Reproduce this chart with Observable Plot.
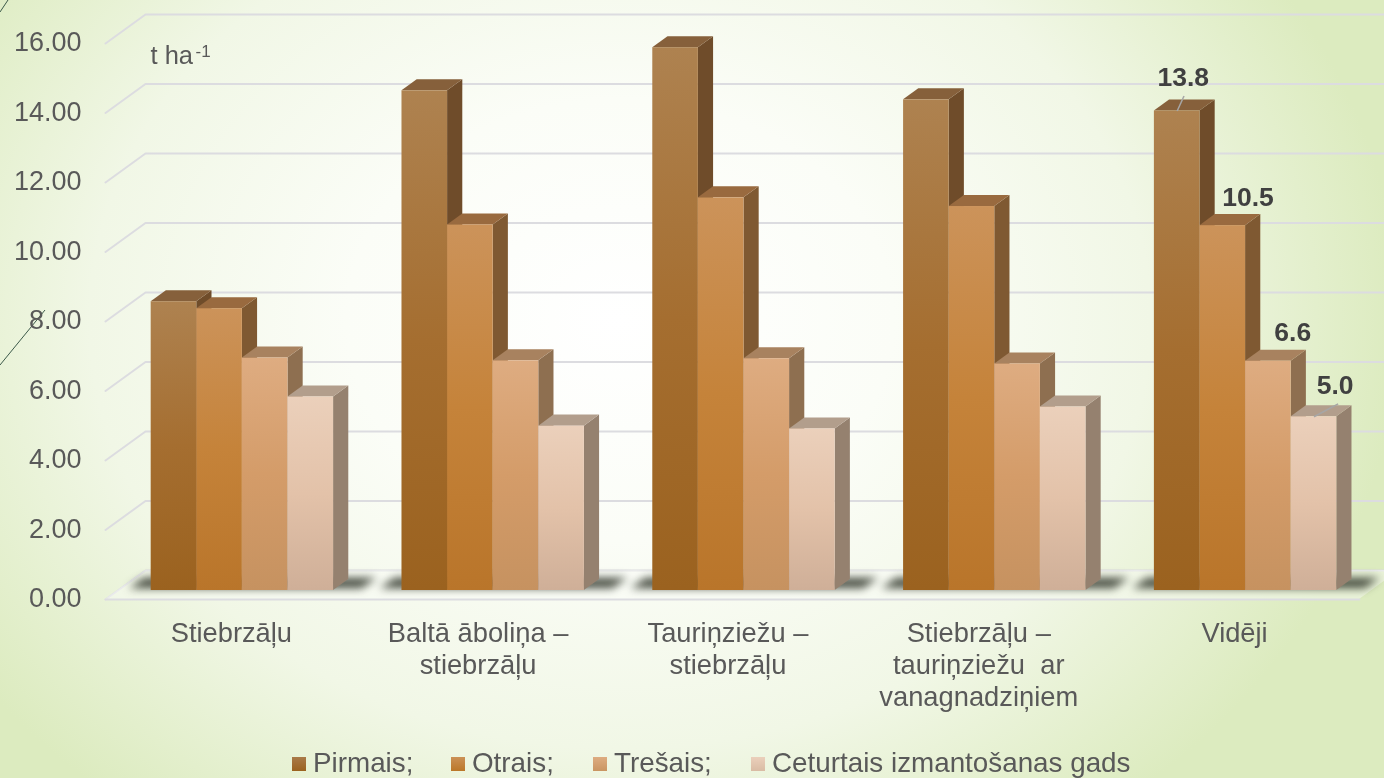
<!doctype html>
<html><head><meta charset="utf-8">
<script src="https://cdn.jsdelivr.net/npm/d3@7"></script>
<script src="https://cdn.jsdelivr.net/npm/@observablehq/plot@0.6"></script>
<style>
html,body{margin:0;padding:0;width:1384px;height:778px;overflow:hidden}
body{position:relative;font-family:"Liberation Sans",Arial,sans-serif;color:#595959;
background:
radial-gradient(ellipse 780px 630px at 620px 320px,#ffffff 0%,#fbfdf7 35%,#f1f7e6 68%,#dcebbf 100%);}
#chart svg{display:block;filter:blur(.45px)}
#legend{position:absolute;left:0;top:747px;width:1384px;height:31px;filter:blur(.45px);font-size:27.8px;line-height:32px}
#legend span{position:absolute;white-space:nowrap}
#legend i{position:absolute;width:14px;height:14px;top:10px}
#deco{position:absolute;left:0;top:0}
</style></head><body>
<svg id="deco" width="1384" height="778"><path d="M0 365L45 310M0 12L8 0" stroke="#3d5a4a" stroke-width="1" fill="none"/></svg>
<div id="chart"></div><div id="legend"></div>
<script>
const categories=["Stiebrzāļu","Baltā āboliņa –\nstiebrzāļu","Tauriņziežu –\nstiebrzāļu","Stiebrzāļu –\ntauriņziežu  ar\nvanagnadziņiem","Vidēji"];
const series=["Pirmais;","Otrais;","Trešais;","Ceturtais izmantošanas gads"];
const pirmais=[8.31,14.38,15.62,14.12,13.8];
const otrais=[8.11,10.52,11.3,11.05,10.5];
const tresais=[6.69,6.61,6.67,6.52,6.6];
const ceturtais=[5.57,4.73,4.65,5.28,5.0];
const allValues=[pirmais,otrais,tresais,ceturtais];
const ticks=[0,2,4,6,8,10,12,14,16];
const frontStops=[["#AE8250","#A56E30","#9B621F"],["#CC935A","#C5833A","#B9752A"],["#DEAC81","#D49C69","#C69260"],["#EBD0BB","#E3C2A9","#CFAF98"]];
const sideColors=["#6F4C2A","#7F5932","#8E6F50","#95816F"];
const topColors=["#86603B","#996A3F","#A8825F","#B29E8C"];
const labelShiftX=[-0.2,0.22,0.2,0.13];
const labelShiftY=[0.09,-0.06,-0.06,0.03];
const catShift=[0,-0.09,-0.11,-0.11,0];

// 3-D projection in data units: u counts bar widths, d is depth into the floor (0 front, 1 back)
const DU=0.877, DV=0.8345, D0=0.31, D1=0.69, PERIOD=5.5, U0=-0.02;
const px=(u,d)=>u+d*DU, pv=(v,d)=>v+d*DV;

const grid=ticks.flatMap(t=>[[-0.75,0],[-0.75,1],[27.5,1]].map(([u,d])=>({t,x:px(u,d),y:pv(t,d)})));
const floorFront=[{x:px(-0.75,0),y1:pv(0,0),y2:pv(0,0)},{x:px(-0.75,1),y1:pv(0,0),y2:pv(0,1)},{x:px(26.75,0),y1:pv(0,0),y2:pv(0,1)},{x:px(26.75,1),y1:pv(0,1),y2:pv(0,1)}];
const frontEdge=[{x:px(-0.75,0),y:0},{x:px(26.75,0),y:0}];

const bars=allValues.flatMap((vals,s)=>vals.map((v,g)=>({s,g,v,u:U0+g*PERIOD+s})));
const side=s=>bars.filter(b=>b.s===s).flatMap(b=>[
 {b:b.g,x:px(b.u+1,D0),y1:pv(0,D0),y2:pv(b.v,D0)},{b:b.g,x:px(b.u+1,D1),y1:pv(0,D1),y2:pv(b.v,D1)}]);
const top_=s=>bars.filter(b=>b.s===s).flatMap(b=>{const a=pv(b.v,D0),c=pv(b.v,D1);return[
 {b:b.g,x:px(b.u,D0),y1:a,y2:a},{b:b.g,x:px(b.u,D1),y1:a,y2:c},{b:b.g,x:px(b.u+1,D0),y1:a,y2:c},{b:b.g,x:px(b.u+1,D1),y1:c,y2:c}]});
const shadow=categories.flatMap((c,g)=>{const l=g*PERIOD-0.5,r=g*PERIOD+4.6;const a=pv(0,D0+.06),e=pv(0,D1+.04);return[
 {b:g,x:px(l,D0),y1:a,y2:a},{b:g,x:px(l,D1),y1:a,y2:e},{b:g,x:px(r,D0),y1:a,y2:e},{b:g,x:px(r,D1),y1:e,y2:e}]});

const faceMarks=[];
// draw by series, left to right, so later bars overlap earlier ones
for(let s=0;s<4;s++){
 faceMarks.push(
  Plot.areaY(side(s),{x:"x",y1:"y1",y2:"y2",z:"b",fill:sideColors[s],curve:"linear"}),
  Plot.areaY(top_(s),{x:"x",y1:"y1",y2:"y2",z:"b",fill:topColors[s],curve:"linear"}),
  Plot.rect(bars.filter(b=>b.s===s),{x1:b=>px(b.u,D0),x2:b=>px(b.u+1,D0),y1:()=>pv(0,D0),y2:b=>pv(b.v,D0),fill:`url(#g${s})`})
 );
}
const lastBars=bars.filter(b=>b.g===4);
const leaders=[
 {x1:px(lastBars[0].u+0.5,D0),y1:pv(lastBars[0].v,D0),x2:px(lastBars[0].u+0.5,D0)+0.15,y2:pv(lastBars[0].v,D0)+0.43},
 {x1:px(lastBars[3].u+0.5,D0),y1:pv(lastBars[3].v,D0),x2:px(lastBars[3].u+0.5,D0)+0.53,y2:pv(lastBars[3].v,D0)+0.37}
];
const gradients=()=>{
 const ns="http://www.w3.org/2000/svg";
 const g=document.createElementNS(ns,"defs");
 frontStops.forEach((st,i)=>{
  const lg=document.createElementNS(ns,"linearGradient");
  lg.setAttribute("id","g"+i);lg.setAttribute("x1","0");lg.setAttribute("y1","0");lg.setAttribute("x2","0");lg.setAttribute("y2","1");
  st.forEach((c,k)=>{const sp=document.createElementNS(ns,"stop");sp.setAttribute("offset",k/2);sp.setAttribute("stop-color",c);lg.appendChild(sp)});
  g.appendChild(lg);
 });
 return g;
};

const chart=Plot.plot({
 width:1384,height:740,marginLeft:105,marginRight:25,marginTop:43,marginBottom:141,
 style:{background:"transparent",fontFamily:"'Liberation Sans',Arial,sans-serif",color:"#595959"},
 x:{domain:[-0.75,26.75],range:[105,1359],axis:null},
 y:{domain:[0,16],range:[599,43],axis:null},
 marks:[
  gradients,
  Plot.line(grid,{x:"x",y:"y",z:"t",stroke:"#dcdce0",strokeWidth:2,curve:"linear"}),
  Plot.areaY(floorFront,{x:"x",y1:"y1",y2:"y2",fill:"#fbfcf8",fillOpacity:.45,curve:"linear"}),
  Plot.line(frontEdge,{x:"x",y:"y",stroke:"#dcdce0",strokeWidth:2}),
  Plot.areaY(shadow,{x:"x",y1:"y1",y2:"y2",z:"b",fill:"#2a3024",fillOpacity:.85,curve:"linear",imageFilter:"blur(4.5px)"}),
  ...faceMarks,
  Plot.link(leaders,{x1:"x1",y1:"y1",x2:"x2",y2:"y2",stroke:"#a6a6a6",strokeWidth:1.5}),
  Plot.text(ticks,{x:()=>-0.75,y:d=>d+0.03,text:d=>d.toFixed(2),textAnchor:"end",dx:-24,fontSize:27,fill:"#595959"}),
  Plot.text(categories,{x:(d,i)=>i*PERIOD+2.01+catShift[i],y:()=>0,text:d=>d,dy:20,lineAnchor:"top",lineHeight:1.175,fontSize:27.3,fill:"#595959"}),
  Plot.text(lastBars,{x:b=>px(b.u+0.5,D1)+labelShiftX[b.s],y:b=>pv(b.v,D1)+labelShiftY[b.s],text:b=>b.v.toFixed(1),dy:-11,lineAnchor:"bottom",fontSize:26.5,fontWeight:"bold",fill:"#404040"}),
  Plot.text(["t ha"],{frameAnchor:"top-left",text:d=>d,dx:45,dy:2,lineAnchor:"top",fontSize:25.5,fill:"#595959"}),
  Plot.text(["-1"],{frameAnchor:"top-left",text:d=>d,dx:90,dy:1,lineAnchor:"top",fontSize:17,fill:"#595959"})
 ]
});
document.getElementById("chart").appendChild(chart);

// legend
const legendEntries=[{x:292,tx:313},{x:451,tx:472},{x:593,tx:614},{x:751,tx:772}];
const lg=document.getElementById("legend");
const fillers=["linear-gradient(#A97A48,#9B621F)","linear-gradient(#CB9156,#BB7729)","linear-gradient(#DEAC81,#C99562)","linear-gradient(#EBD0BB,#D9BBA4)"];
series.forEach((t,i)=>{
 const sw=document.createElement("i");sw.style.left=legendEntries[i].x+"px";sw.style.background=fillers[i];lg.appendChild(sw);
 const sp=document.createElement("span");sp.textContent=t;sp.style.left=legendEntries[i].tx+"px";lg.appendChild(sp);
});
</script></body></html>
